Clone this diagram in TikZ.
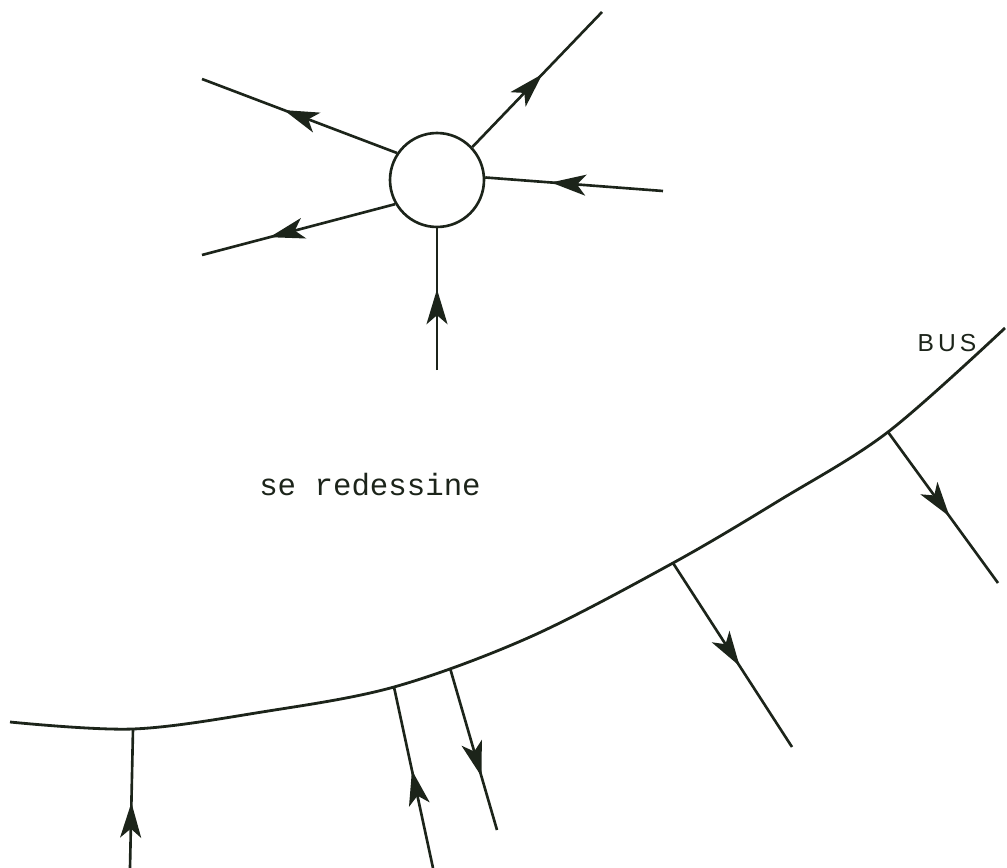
\documentclass[tikz,border=0pt]{standalone}
\usepackage{fontspec}
\setmonofont{Liberation Mono}
\setsansfont{Liberation Sans}
\usetikzlibrary{arrows.meta,decorations.markings}
\definecolor{inkDark}{RGB}{28,36,26}

\begin{document}
\begin{tikzpicture}[
  x=0.02cm, y=-0.02cm,
  every node/.style={align=center},
  >={Stealth[length=7mm, width=4.2mm, inset=1.8mm]},
  wire/.style={draw=inkDark, line width=1.5pt, postaction={decorate},
    decoration={markings, mark=at position #1 with {\arrow{>}}}},
  wire/.default=0.5,
  hubnode/.style={circle, draw=inkDark, line width=1.5pt, minimum size=1.88cm, inner sep=0pt},
  busline/.style={draw=inkDark, line width=1.6pt},
  caption/.style={font=\ttfamily\fontsize{17.5}{20}\selectfont, text=inkDark},
  buslabel/.style={font=\sffamily\fontsize{14}{16}\selectfont, text=inkDark}
]
\useasboundingbox (0,0) rectangle (1007,868);

% - star around the hub -
\node[hubnode] (hub) at (437,180) {};
\coordinate (nw) at (202,79);
\coordinate (sw) at (202,255);
\coordinate (ne) at (602,12);
\coordinate (ea) at (663,191);
\coordinate (so) at (437,370);

\draw[wire=0.58] (hub.146) -- (nw);
\draw[wire=0.65] (hub.210) -- (sw);
\draw[wire=0.54] (hub.43) -- (ne);
\draw[wire=0.63] (ea) -- (hub.3);
\draw[wire=0.57] (so) -- (hub.south);

% - caption -
\node[caption] (redraw) at (370,485) {se redessine};

% - bus with its taps -
\coordinate (busL) at (10,722);
\coordinate (t1) at (133,729);
\coordinate (t2) at (394,687);
\coordinate (t3) at (450,668);
\coordinate (t4) at (673,563);
\coordinate (t5) at (888,432);
\coordinate (busR) at (1005,328);
\draw[busline] plot[smooth, tension=0.55] coordinates {(busL) (t1) (262,712) (t2) (530,637) (t4) (780,500) (t5) (busR)};
\node[buslabel] (buslbl) at (947,343) {B\,U\,S};

\coordinate (b1) at (130,868);
\coordinate (b2) at (433,868);
\coordinate (b3) at (497,830);
\coordinate (b4) at (792,747);
\coordinate (b5) at (998,583);

\draw[wire=0.47] (b1) -- (t1);
\draw[wire=0.54] (b2) -- (t2);
\draw[wire=0.67] (t3) -- (b3);
\draw[wire=0.56] (t4) -- (b4);
\draw[wire=0.56] (t5) -- (b5);

\end{tikzpicture}
\end{document}
